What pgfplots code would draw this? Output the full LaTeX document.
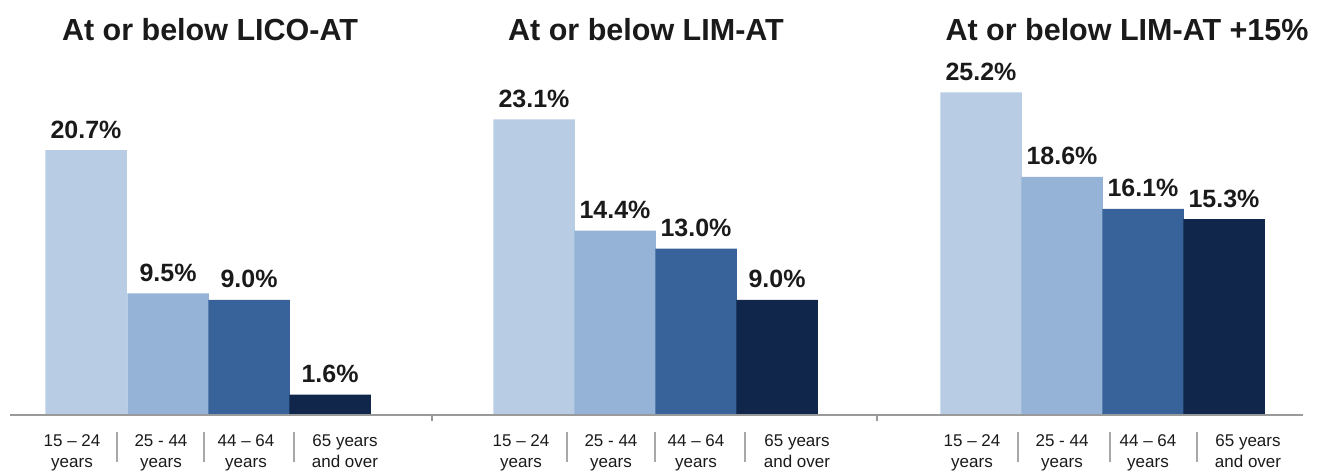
\documentclass[border=0pt]{standalone}
\usepackage{pgfplots}
\pgfplotsset{compat=1.18}
\usepackage{fontspec}
\setmainfont{Liberation Sans}
\definecolor{cA}{HTML}{B8CCE4}
\definecolor{cB}{HTML}{95B3D7}
\definecolor{cC}{HTML}{37629A}
\definecolor{cD}{HTML}{10264A}
\definecolor{axgrey}{HTML}{9A9A9A}
\definecolor{sepgrey}{HTML}{A8A8A8}
\definecolor{txt}{HTML}{1A1A1A}
\begin{document}
\begin{tikzpicture}
\begin{axis}[
  scale only axis,
  width=1323bp, height=470bp,
  xmin=0, xmax=1323,
  ymin=-4.297, ymax=32.422,
  hide axis,
  clip=false,
  /pgf/number format/assume math mode=true,
  every node near coord/.append style={font=\fontsize{25bp}{30bp}\selectfont\bfseries, text=txt, anchor=base, yshift=12bp},
  nodes near coords={\pgfmathprintnumber[fixed,fixed zerofill,precision=1]{\pgfplotspointmeta}\%},
]
\path (rel axis cs:0,0) rectangle (rel axis cs:1,1);
% 15-24 years
\addplot[ybar, bar width=81.5, bar shift=0pt, fill=cA, draw=none] coordinates {(86,20.7) (534,23.1) (981,25.2)};
% 25-44 years
\addplot[ybar, bar width=81.5, bar shift=0pt, fill=cB, draw=none] coordinates {(168,9.5) (615,14.4) (1062,18.6)};
% 44-64 years
\addplot[ybar, bar width=81.5, bar shift=0pt, fill=cC, draw=none] coordinates {(249,9.0) (696,13.0) (1143,16.1)};
% 65 years and over
\addplot[ybar, bar width=81.5, bar shift=0pt, fill=cD, draw=none] coordinates {(330,1.6) (777,9.0) (1224,15.3)};

% baseline
\draw[axgrey, line width=1.5bp] (axis cs:10,0) -- (axis cs:1303,0);
\draw[axgrey, line width=1.2bp] (axis cs:432,0) -- ([yshift=-6bp]axis cs:432,0);
\draw[axgrey, line width=1.2bp] (axis cs:877,0) -- ([yshift=-6bp]axis cs:877,0);
% titles
\node[anchor=base, text=txt, font=\fontsize{30.5bp}{36bp}\selectfont\bfseries] at ([yshift=374bp]axis cs:210,0) {At or below LICO-AT};
\node[anchor=base, text=txt, font=\fontsize{30.5bp}{36bp}\selectfont\bfseries] at ([yshift=374bp]axis cs:646,0) {At or below LIM-AT};
\node[anchor=base, text=txt, font=\fontsize{30.5bp}{36bp}\selectfont\bfseries] at ([yshift=374bp]axis cs:1127,0) {At or below LIM-AT +15\%};
% category labels
\pgfplotsinvokeforeach{72,521,972}{
  \node[anchor=base, align=center, text=txt, font=\fontsize{17bp}{21bp}\selectfont] at ([yshift=-52bp]axis cs:#1,0) {15 -- 24\\years};
}
\pgfplotsinvokeforeach{161,611,1062}{
  \node[anchor=base, align=center, text=txt, font=\fontsize{17bp}{21bp}\selectfont] at ([yshift=-52bp]axis cs:#1,0) {25 - 44\\years};
}
\pgfplotsinvokeforeach{246,696,1148}{
  \node[anchor=base, align=center, text=txt, font=\fontsize{17bp}{21bp}\selectfont] at ([yshift=-52bp]axis cs:#1,0) {44 -- 64\\years};
}
\pgfplotsinvokeforeach{345,797,1248}{
  \node[anchor=base, align=center, text=txt, font=\fontsize{17bp}{21bp}\selectfont] at ([yshift=-52bp]axis cs:#1,0) {65 years\\and over};
}
% separators
\pgfplotsinvokeforeach{117,204,294,567,655,745,1018,1110,1197}{
  \draw[sepgrey, line width=1.8bp] ([yshift=-17bp]axis cs:#1,0) -- ([yshift=-47bp]axis cs:#1,0);
}
\end{axis}
\end{tikzpicture}
\end{document}
